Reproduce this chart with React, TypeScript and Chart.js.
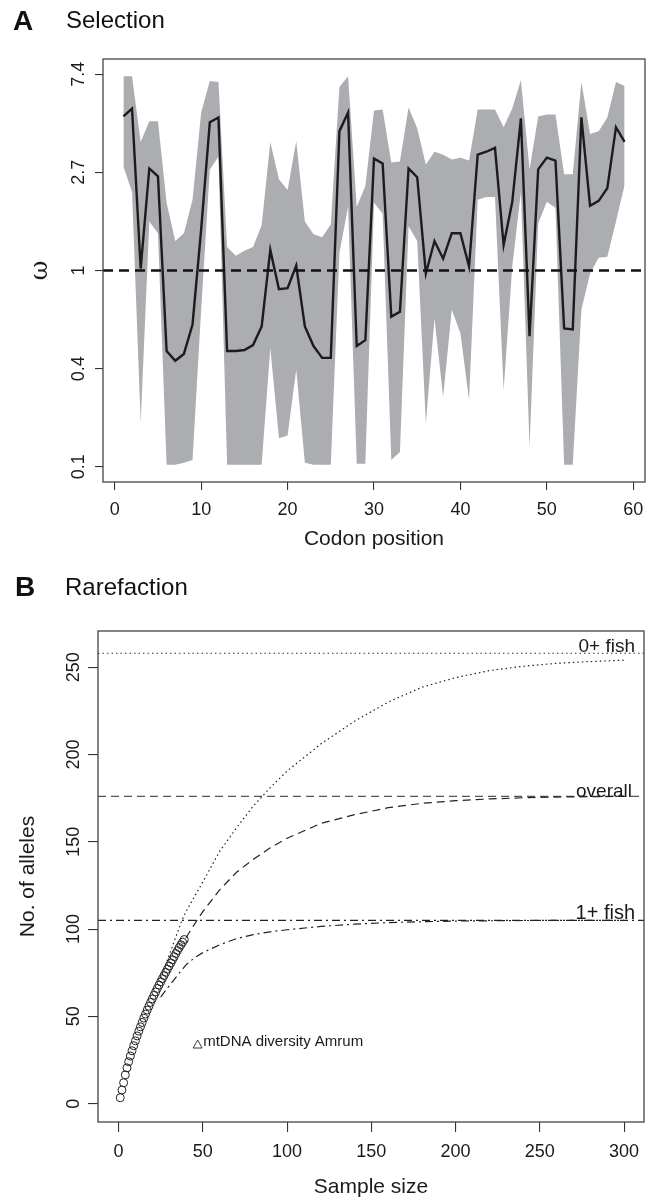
import React, { useEffect, useRef } from 'react';
import { Chart, registerables } from 'chart.js';

Chart.register(...registerables);

const FONT = '"Liberation Sans", Arial, Helvetica, sans-serif';

// ---------- Panel A: Selection ----------
const codonPositions = [1, 2, 3, 4, 5, 6, 7, 8, 9, 10, 11, 12, 13, 14, 15, 16, 17, 18, 19, 20, 21, 22, 23, 24, 25, 26, 27, 28, 29, 30, 31, 32, 33, 34, 35, 36, 37, 38, 39, 40, 41, 42, 43, 44, 45, 46, 47, 48, 49, 50, 51, 52, 53, 54, 55, 56, 57, 58, 59];
// ln(omega), posterior mean
const omegaLogMean = [1.57, 1.65, 0.02, 1.04, 0.96, -0.82, -0.92, -0.85, -0.55, 0.42, 1.51, 1.56, -0.82, -0.82, -0.81, -0.76, -0.57, 0.21, -0.19, -0.18, 0.05, -0.57, -0.77, -0.89, -0.89, 1.42, 1.61, -0.77, -0.71, 1.14, 1.09, -0.47, -0.42, 1.04, 0.95, -0.03, 0.30, 0.12, 0.38, 0.38, 0.04, 1.18, 1.21, 1.25, 0.26, 0.70, 1.55, -0.67, 1.03, 1.15, 1.12, -0.59, -0.60, 1.56, 0.66, 0.71, 0.84, 1.46, 1.31];
// ln(omega), upper bound of interval
const omegaLogUpper = [1.98, 1.98, 1.31, 1.52, 1.52, 0.69, 0.30, 0.38, 0.72, 1.61, 1.93, 1.92, 0.24, 0.15, 0.20, 0.24, 0.46, 1.31, 0.93, 0.82, 1.32, 0.50, 0.37, 0.34, 0.47, 1.87, 1.98, 0.65, 0.86, 1.63, 1.64, 1.10, 1.11, 1.66, 1.45, 1.08, 1.21, 1.18, 1.13, 1.15, 1.12, 1.64, 1.64, 1.64, 1.46, 1.65, 1.94, 1.03, 1.57, 1.59, 1.59, 0.98, 0.98, 1.92, 1.39, 1.42, 1.56, 1.92, 1.88];
// ln(omega), lower bound of interval
const omegaLogLower = [1.06, 0.80, -1.55, 0.50, 0.38, -1.98, -1.98, -1.96, -1.93, -0.40, 1.03, 1.16, -1.98, -1.98, -1.98, -1.98, -1.98, -0.79, -1.71, -1.68, -1.01, -1.96, -1.98, -1.98, -1.98, 0.18, 0.65, -1.97, -1.97, 0.69, 0.58, -1.93, -1.85, 0.45, 0.30, -1.56, -0.49, -1.29, -0.40, -0.64, -1.32, 0.72, 0.75, 0.75, -1.22, 0.04, 0.80, -1.80, 0.48, 0.70, 0.64, -1.98, -1.98, -0.40, -0.03, 0.13, 0.14, 0.50, 0.87];
const neutralOmegaLog = 0;
const omegaTickValues = [-2, -1, 0, 1, 2];
const omegaTickLabels = ['0.1', '0.4', '1', '2.7', '7.4'];
const codonTicks = [0, 10, 20, 30, 40, 50, 60];
const codonRange = [-1.36, 61.36];
const omegaRange = [-2.155, 2.155];

// ---------- Panel B: Rarefaction ----------
const observedSample = [1, 2, 3, 4, 5, 6, 7, 8, 9, 10, 11, 12, 13, 14, 15, 16, 17, 18, 19, 20, 21, 22, 23, 24, 25, 26, 27, 28, 29, 30, 31, 32, 33, 34, 35, 36, 37, 38, 39];
const observedAlleles = [3.4, 7.8, 12, 16.5, 20.5, 24, 27.3, 30.3, 33.2, 36, 38.8, 41.5, 44, 46.5, 49, 51.3, 53.6, 55.8, 58, 60, 62, 64, 66, 67.9, 69.8, 71.6, 73.4, 75.2, 77, 78.8, 80.6, 82.4, 84.2, 86, 87.7, 89.4, 91, 92.5, 94];
const fish0Sample = [25, 30, 37.6, 40, 50, 60, 70, 80, 90, 100, 120, 140, 160, 180, 200, 220, 240, 260, 280, 300];
const fish0Alleles = [72, 85, 105, 110, 127, 144.5, 158, 170.5, 181, 190.5, 206, 219, 230, 238.5, 244, 248, 250.5, 252.2, 253.2, 254];
const overallSample = [40, 46.5, 50, 60, 70, 80, 90, 100, 120, 140, 160, 180, 200, 220, 240, 260, 280, 300];
const overallAlleles = [95, 105, 110, 122.5, 132.5, 140, 146.5, 152, 160.5, 165.5, 169.5, 172, 173.5, 174.5, 175.2, 175.6, 175.8, 176];
const fish1Sample = [25, 30, 35, 40, 45, 50, 60, 70, 80, 90, 100, 120, 140, 160, 180, 200, 240, 300];
const fish1Alleles = [61, 67.5, 73.5, 79.5, 83.5, 86.5, 91, 94.5, 96.8, 98.4, 99.6, 101.5, 102.8, 103.7, 104.2, 104.6, 104.9, 105];
const fish0Total = 258;
const overallTotal = 176;
const fish1Total = 105;
const sampleTicks = [0, 50, 100, 150, 200, 250, 300];
const alleleTicks = [0, 50, 100, 150, 200, 250];
const sampleRange = [-12.2, 311.8];
const alleleRange = [-10.5, 270.7];
const legendText = 'mtDNA diversity Amrum';
const legendAt = [50.2, 35.3];

const toXY = (xs: number[], ys: number[]) => xs.map((x, i) => ({ x, y: ys[i] }));

function axisCommon(min: number, max: number, ticks: number[], size: number, horizontal: boolean, tickLen: number) {
  return {
    type: 'linear',
    min,
    max,
    afterBuildTicks: (s: any) => {
      s.ticks = ticks.map((v) => ({ value: v }));
    },
    afterFit: (s: any) => {
      if (horizontal) s.height = size;
      else s.width = size;
    },
    ticks: { display: false },
    grid: { display: true, drawOnChartArea: false, drawTicks: true, tickLength: tickLen, color: '#333', lineWidth: 1.1 },
    border: { display: false },
  };
}

const panelAPlugin = {
  id: 'panelA',
  afterDraw(chart: any) {
    const { ctx, chartArea: ca, scales } = chart;
    const xs = scales.x;
    const ys = scales.y;
    ctx.save();
    ctx.strokeStyle = '#444';
    ctx.lineWidth = 1.3;
    ctx.strokeRect(ca.left, ca.top, ca.right - ca.left, ca.bottom - ca.top);
    ctx.fillStyle = '#1a1a1a';
    ctx.textAlign = 'center';
    ctx.textBaseline = 'middle';
    ctx.font = `18px ${FONT}`;
    codonTicks.forEach((v) => ctx.fillText(String(v), xs.getPixelForValue(v), ca.bottom + 28));
    omegaTickValues.forEach((v, i) => {
      ctx.save();
      ctx.translate(ca.left - 24, ys.getPixelForValue(v));
      ctx.rotate(-Math.PI / 2);
      ctx.fillText(omegaTickLabels[i], 0, 0);
      ctx.restore();
    });
    ctx.font = `21px ${FONT}`;
    ctx.fillText('Codon position', (ca.left + ca.right) / 2, ca.bottom + 57);
    ctx.save();
    ctx.translate(41, (ca.top + ca.bottom) / 2);
    ctx.rotate(-Math.PI / 2);
    ctx.font = `24px "DejaVu Serif", serif`;
    ctx.fillText('ω', 0, 0);
    ctx.restore();
    ctx.textAlign = 'left';
    ctx.textBaseline = 'alphabetic';
    ctx.fillStyle = '#111';
    ctx.font = `bold 28px ${FONT}`;
    ctx.fillText('A', 13, 30);
    ctx.font = `24px ${FONT}`;
    ctx.fillText('Selection', 66, 28);
    ctx.restore();
  },
};

const panelBPlugin = {
  id: 'panelB',
  afterDraw(chart: any) {
    const { ctx, chartArea: ca, scales } = chart;
    const xs = scales.x;
    const ys = scales.y;
    ctx.save();
    ctx.strokeStyle = '#444';
    ctx.lineWidth = 1.3;
    ctx.strokeRect(ca.left, ca.top, ca.right - ca.left, ca.bottom - ca.top);
    ctx.fillStyle = '#1a1a1a';
    ctx.textAlign = 'center';
    ctx.textBaseline = 'middle';
    ctx.font = `18px ${FONT}`;
    sampleTicks.forEach((v) => ctx.fillText(String(v), xs.getPixelForValue(v), ca.bottom + 30));
    alleleTicks.forEach((v) => {
      ctx.save();
      ctx.translate(ca.left - 24, ys.getPixelForValue(v));
      ctx.rotate(-Math.PI / 2);
      ctx.fillText(String(v), 0, 0);
      ctx.restore();
    });
    ctx.font = `21px ${FONT}`;
    ctx.fillText('Sample size', (ca.left + ca.right) / 2, ca.bottom + 65);
    ctx.save();
    ctx.translate(28, (ca.top + ca.bottom) / 2);
    ctx.rotate(-Math.PI / 2);
    ctx.fillText('No. of alleles', 0, 0);
    ctx.restore();
    // reference line labels
    ctx.textAlign = 'right';
    ctx.textBaseline = 'alphabetic';
    ctx.font = `19px ${FONT}`;
    ctx.fillText('0+ fish', ca.right - 9, ys.getPixelForValue(fish0Total) - 1);
    ctx.fillText('overall', ca.right - 12, ys.getPixelForValue(overallTotal) + 1);
    ctx.font = `20px ${FONT}`;
    ctx.fillText('1+ fish', ca.right - 9, ys.getPixelForValue(fish1Total) - 1);
    // legend text with triangle
    const lx = xs.getPixelForValue(legendAt[0]);
    const ly = ys.getPixelForValue(legendAt[1]);
    ctx.textAlign = 'left';
    ctx.textBaseline = 'middle';
    ctx.font = `15px ${FONT}`;
    ctx.fillText(legendText, lx, ly);
    ctx.beginPath();
    ctx.moveTo(lx - 10, ly + 6);
    ctx.lineTo(lx - 1, ly + 6);
    ctx.lineTo(lx - 5.5, ly - 2);
    ctx.closePath();
    ctx.lineWidth = 0.9;
    ctx.strokeStyle = '#222';
    ctx.stroke();
    // panel title
    ctx.textBaseline = 'alphabetic';
    ctx.fillStyle = '#111';
    ctx.font = `bold 28px ${FONT}`;
    ctx.fillText('B', 15, 36);
    ctx.font = `24px ${FONT}`;
    ctx.fillText('Rarefaction', 65, 35);
    ctx.restore();
  },
};

function configA(): any {
  return {
    type: 'line',
    data: {
      datasets: [
        { data: [{ x: codonRange[0], y: neutralOmegaLog }, { x: codonRange[1], y: neutralOmegaLog }], borderColor: '#111', borderWidth: 2.5, borderDash: [10, 6], pointRadius: 0, fill: false, order: 0 },
        { data: toXY(codonPositions, omegaLogMean), borderColor: '#1c1c1c', borderWidth: 2.4, pointRadius: 0, fill: false, order: 1 },
        { data: toXY(codonPositions, omegaLogUpper), borderWidth: 0, borderColor: 'rgba(0,0,0,0)', backgroundColor: '#acadb1', pointRadius: 0, fill: '+1', order: 2 },
        { data: toXY(codonPositions, omegaLogLower), borderWidth: 0, borderColor: 'rgba(0,0,0,0)', pointRadius: 0, fill: false, order: 3 },
      ],
    },
    options: {
      responsive: false,
      animation: false,
      devicePixelRatio: 1,
      layout: { padding: { left: 0, top: 59, right: 14, bottom: 18 } },
      plugins: { legend: { display: false }, tooltip: { enabled: false } },
      elements: { line: { tension: 0 } },
      scales: {
        x: axisCommon(codonRange[0], codonRange[1], codonTicks, 60, true, 8),
        y: axisCommon(omegaRange[0], omegaRange[1], omegaTickValues, 103, false, 8),
      },
    },
    plugins: [panelAPlugin],
  };
}

function configB(): any {
  return {
    type: 'line',
    data: {
      datasets: [
        { data: toXY(observedSample, observedAlleles), showLine: false, pointRadius: 4, pointStyle: 'circle', pointBorderColor: '#222', pointBorderWidth: 1, pointBackgroundColor: 'rgba(255,255,255,0)', borderColor: '#222', fill: false },
        { data: toXY(fish0Sample, fish0Alleles), borderColor: '#222', borderWidth: 1.2, borderDash: [1.5, 3], pointRadius: 0, fill: false },
        { data: toXY(overallSample, overallAlleles), borderColor: '#222', borderWidth: 1.2, borderDash: [8, 5], pointRadius: 0, fill: false },
        { data: toXY(fish1Sample, fish1Alleles), borderColor: '#222', borderWidth: 1.2, borderDash: [8, 4, 2, 4], pointRadius: 0, fill: false },
        { data: [{ x: sampleRange[0], y: fish0Total }, { x: sampleRange[1], y: fish0Total }], borderColor: '#333', borderWidth: 1.1, borderDash: [1.5, 3], pointRadius: 0, fill: false },
        { data: [{ x: sampleRange[0], y: overallTotal }, { x: sampleRange[1], y: overallTotal }], borderColor: '#555', borderWidth: 1.3, borderDash: [8, 5], pointRadius: 0, fill: false },
        { data: [{ x: sampleRange[0], y: fish1Total }, { x: sampleRange[1], y: fish1Total }], borderColor: '#222', borderWidth: 1.2, borderDash: [8, 4, 2, 4], pointRadius: 0, fill: false },
      ],
    },
    options: {
      responsive: false,
      animation: false,
      devicePixelRatio: 1,
      layout: { padding: { left: 0, top: 71, right: 15, bottom: 19 } },
      plugins: { legend: { display: false }, tooltip: { enabled: false } },
      elements: { line: { tension: 0 } },
      scales: {
        x: axisCommon(sampleRange[0], sampleRange[1], sampleTicks, 60, true, 10),
        y: axisCommon(alleleRange[0], alleleRange[1], alleleTicks, 98, false, 10),
      },
    },
    plugins: [panelBPlugin],
  };
}

export default function App() {
  const refA = useRef<HTMLCanvasElement>(null);
  const refB = useRef<HTMLCanvasElement>(null);
  useEffect(() => {
    const a = new Chart(refA.current as HTMLCanvasElement, configA());
    const b = new Chart(refB.current as HTMLCanvasElement, configB());
    return () => {
      a.destroy();
      b.destroy();
    };
  }, []);
  return (
    <div style={{ position: 'absolute', left: 0, top: 0, width: 659, height: 1201, background: '#fff' }}>
      <canvas ref={refA} width={659} height={560} style={{ display: 'block', width: 659, height: 560 }} />
      <canvas ref={refB} width={659} height={641} style={{ display: 'block', width: 659, height: 641 }} />
    </div>
  );
}
